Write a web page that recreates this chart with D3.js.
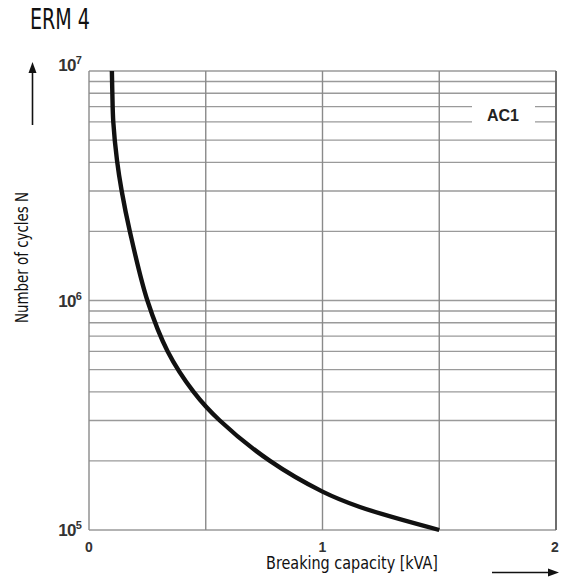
<!DOCTYPE html>
<html>
<head>
<meta charset="utf-8">
<script src="https://cdn.jsdelivr.net/npm/d3@7"></script>
<style>
  html, body { margin: 0; padding: 0; background: #fff; }
  svg { display: block; }
</style>
</head>
<body>
<script>
// Endurance curve, ERM 4, AC1 load
const capacity = [0.098, 0.100, 0.104, 0.120, 0.140, 0.175, 0.250, 0.337, 0.448, 0.560, 0.775, 1.000, 1.160, 1.500];
const cycles   = [1e7, 8e6, 6.0e6, 4.07e6, 3.0e6, 2.0e6, 1.0e6, 6e5, 4e5, 3e5, 2e5, 1.47e5, 1.26e5, 1.0e5];
const xTicks = [0, 1, 2];
const xGrid = [0.5, 1, 1.5];
const yDecades = [5, 6, 7];
const title = "ERM 4";
const xTitle = "Breaking capacity [kVA]";
const yTitle = "Number of cycles N";
const seriesLabel = "AC1";

const W = 565, H = 583;
const svg = d3.select("body").append("svg").attr("width", W).attr("height", H);

const x = d3.scaleLinear().domain([0, 2]).range([89, 556]);
const y = d3.scaleLog().domain([1e5, 1e7]).range([530, 71]);

const condensed = "'Liberation Sans Narrow', 'DejaVu Sans Condensed', 'Liberation Sans', sans-serif";
const bold = "'Liberation Sans', Arial, sans-serif";

// Horizontal log grid: 1..9 in every decade
const hVals = [];
for (let e = 5; e < 7; e++) for (let m = 1; m < 10; m++) hVals.push(m * Math.pow(10, e));
hVals.push(1e7);

const grid = svg.append("g");
grid.selectAll("line.h").data(hVals).join("line")
  .attr("class", "h")
  .attr("x1", x(0)).attr("x2", x(2))
  .attr("y1", d => y(d)).attr("y2", d => y(d))
  .attr("stroke", "#9a9a9a").attr("stroke-width", 1.3);

grid.selectAll("line.v").data(xGrid).join("line")
  .attr("class", "v")
  .attr("x1", d => x(d)).attr("x2", d => x(d))
  .attr("y1", y(1e7)).attr("y2", y(1e5))
  .attr("stroke", "#8a8a8a").attr("stroke-width", 1.4);

// left axis and right frame
grid.append("line").attr("x1", x(0)).attr("x2", x(0)).attr("y1", y(1e7)).attr("y2", y(1e5))
  .attr("stroke", "#8a8a8a").attr("stroke-width", 1.4);
grid.append("line").attr("x1", x(2)).attr("x2", x(2)).attr("y1", y(1e7)).attr("y2", y(1e5))
  .attr("stroke", "#6e6e6e").attr("stroke-width", 2);

// Series label box
const lbl = svg.append("g");
lbl.append("rect").attr("x", 472).attr("y", 99).attr("width", 63).attr("height", 29).attr("fill", "#fff");
lbl.append("text").attr("x", 503).attr("y", 121)
  .attr("text-anchor", "middle")
  .attr("font-family", bold).attr("font-weight", "bold").attr("font-size", 16)
  .attr("fill", "#222").text(seriesLabel);

// Curve
const pts = capacity.map((c, i) => [c, cycles[i]]);
const line = d3.line().x(d => x(d[0])).y(d => y(d[1])).curve(d3.curveCatmullRom.alpha(0.5));
svg.append("path").datum(pts)
  .attr("d", line)
  .attr("fill", "none").attr("stroke", "#111").attr("stroke-width", 4.4)
  .attr("stroke-linecap", "butt").attr("stroke-linejoin", "round");

// Y tick labels 10^n
const yl = svg.append("g")
  .attr("font-family", bold).attr("font-weight", "bold").attr("fill", "#333");
yDecades.forEach(e => {
  const v = Math.pow(10, e);
  const yy = y(v) + (e === 7 ? 0 : 6);
  const t = yl.append("text").attr("x", 81).attr("y", yy).attr("text-anchor", "end")
    .attr("font-size", 17).attr("letter-spacing", -0.8);
  t.append("tspan").text("10");
  t.append("tspan").attr("dy", -7).attr("font-size", 11).text(String(e));
});

// X tick labels
svg.append("g").selectAll("text").data(xTicks).join("text")
  .attr("x", d => x(d) - (d === 2 ? 1 : 0)).attr("y", 552)
  .attr("text-anchor", "middle")
  .attr("font-family", bold).attr("font-weight", "bold").attr("font-size", 14)
  .attr("fill", "#333").text(d => d);

// Titles
svg.append("text").attr("x", 30).attr("y", 29)
  .attr("font-family", condensed).attr("font-size", 29).attr("fill", "#111")
  .attr("textLength", 60).attr("lengthAdjust", "spacingAndGlyphs")
  .text(title);

svg.append("text").attr("x", 352).attr("y", 569)
  .attr("text-anchor", "middle")
  .attr("font-family", condensed).attr("font-size", 17).attr("fill", "#111")
  .attr("textLength", 172).attr("lengthAdjust", "spacingAndGlyphs")
  .text(xTitle);

svg.append("text")
  .attr("transform", "translate(28,257.5) rotate(-90)")
  .attr("text-anchor", "middle")
  .attr("font-family", condensed).attr("font-size", 17).attr("fill", "#111")
  .attr("textLength", 131).attr("lengthAdjust", "spacingAndGlyphs")
  .text(yTitle);

// Direction arrows
const arr = svg.append("g").attr("fill", "#111").attr("stroke", "#111");
arr.append("line").attr("x1", 32.5).attr("x2", 32.5).attr("y1", 125).attr("y2", 70).attr("stroke-width", 1.6);
arr.append("path").attr("d", "M32.5,62 L28.5,73 L36.5,73 Z").attr("stroke", "none");
arr.append("line").attr("x1", 492).attr("x2", 550).attr("y1", 572.5).attr("y2", 572.5).attr("stroke-width", 1.6);
arr.append("path").attr("d", "M559,572.5 L548,568.5 L548,576.5 Z").attr("stroke", "none");
</script>
</body>
</html>
